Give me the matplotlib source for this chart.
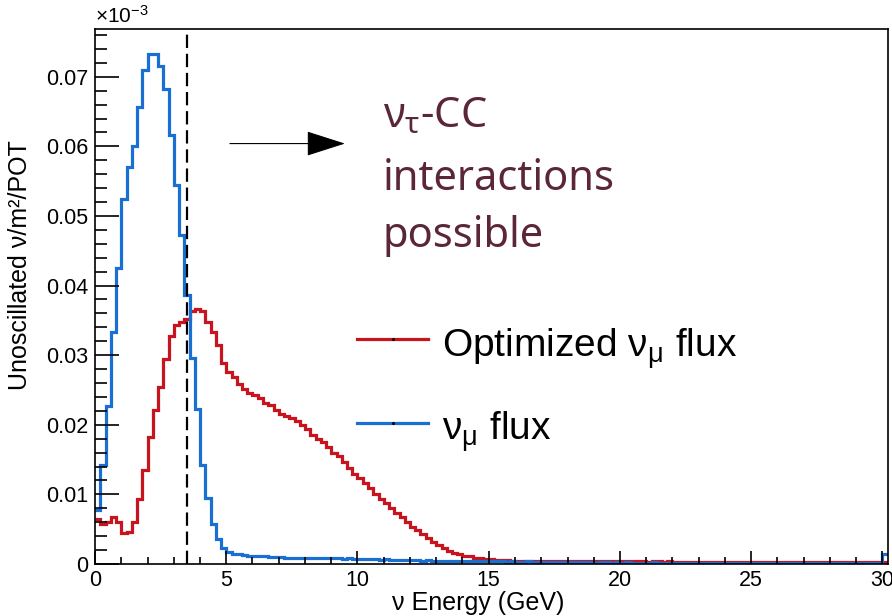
import numpy as np
import matplotlib
matplotlib.use("Agg")
import matplotlib.pyplot as plt
from matplotlib.lines import Line2D
from matplotlib.ticker import MultipleLocator, FixedLocator, FixedFormatter

plt.rcParams['font.family'] = ['Liberation Sans', 'DejaVu Sans']
plt.rcParams['mathtext.default'] = 'regular'

# Energy binning: 0.2 GeV bins from 0 to 30.2 GeV
bin_width = 0.2
n_bins = 151

# nu_mu flux (per m^2 per POT, x1e-3), one value per bin
numu_flux = [
    0.0078, 0.0142, 0.0227, 0.0334, 0.0425, 0.0525, 0.0570, 0.0600, 0.0657, 0.0710,
    0.0732, 0.0732, 0.0716, 0.0683, 0.0617, 0.0545, 0.0472, 0.0387, 0.0296, 0.0222,
    0.0142, 0.0095, 0.0058, 0.0036, 0.0023, 0.0017, 0.0015, 0.0014, 0.0013, 0.0012,
    0.0012, 0.0011, 0.0011, 0.0010, 0.0010, 0.0010, 0.0009, 0.0009, 0.0009, 0.0009,
    0.0009, 0.0008, 0.0008, 0.0008, 0.0008, 0.0008, 0.0008, 0.0007, 0.0008, 0.0007,
    0.0007, 0.0007, 0.0007, 0.0007, 0.0006, 0.0007, 0.0006, 0.0006, 0.0006, 0.0006,
    0.0006, 0.0006, 0.0005, 0.0006, 0.0005, 0.0005, 0.0005, 0.0005, 0.0005, 0.0004,
    0.0005, 0.0004, 0.0004, 0.0004, 0.0004, 0.0004, 0.0004, 0.0004, 0.0003, 0.0004,
    0.0003, 0.0003, 0.0004, 0.0003, 0.0003, 0.0003, 0.0003, 0.0003, 0.0003, 0.0003,
    0.0003, 0.0003, 0.0003, 0.0003, 0.0003, 0.0002, 0.0003, 0.0003, 0.0002, 0.0003,
    0.0002, 0.0003, 0.0002, 0.0002, 0.0002, 0.0002, 0.0003, 0.0002, 0.0002, 0.0002,
    0.0002, 0.0002, 0.0002, 0.0002, 0.0002, 0.0002, 0.0002, 0.0002, 0.0002, 0.0002,
    0.0002, 0.0002, 0.0002, 0.0002, 0.0002, 0.0002, 0.0002, 0.0002, 0.0002, 0.0002,
    0.0002, 0.0002, 0.0002, 0.0002, 0.0002, 0.0002, 0.0002, 0.0002, 0.0002, 0.0002,
    0.0002, 0.0002, 0.0002, 0.0002, 0.0002, 0.0002, 0.0002, 0.0002, 0.0002, 0.0002,
    0.0015,
]

# optimized nu_mu flux
opt_flux = [
    0.0065, 0.0058, 0.0061, 0.0068, 0.0061, 0.0044, 0.0046, 0.0061, 0.0094, 0.0135,
    0.0183, 0.0221, 0.0255, 0.0295, 0.0328, 0.0344, 0.0348, 0.0352, 0.0364, 0.0366,
    0.0363, 0.0347, 0.0333, 0.0314, 0.0289, 0.0276, 0.0269, 0.0259, 0.0252, 0.0246,
    0.0243, 0.0238, 0.0232, 0.0228, 0.0221, 0.0216, 0.0213, 0.0210, 0.0205, 0.0199,
    0.0194, 0.0186, 0.0180, 0.0175, 0.0168, 0.0160, 0.0155, 0.0146, 0.0138, 0.0130,
    0.0123, 0.0117, 0.0109, 0.0101, 0.0094, 0.0087, 0.0080, 0.0073, 0.0068, 0.0060,
    0.0053, 0.0049, 0.0043, 0.0037, 0.0032, 0.0027, 0.0023, 0.0019, 0.0016, 0.0014,
    0.0012, 0.0011, 0.0009, 0.0008, 0.0007, 0.0007, 0.0006, 0.0006, 0.0006, 0.0005,
    0.0005, 0.0005, 0.0005, 0.0005, 0.0005, 0.0004, 0.0005, 0.0004, 0.0004, 0.0004,
    0.0004, 0.0004, 0.0004, 0.0004, 0.0004, 0.0004, 0.0004, 0.0004, 0.0004, 0.0004,
    0.0004, 0.0004, 0.0004, 0.0004, 0.0004, 0.0003, 0.0004, 0.0004, 0.0003, 0.0004,
    0.0003, 0.0003, 0.0003, 0.0003, 0.0003, 0.0003, 0.0003, 0.0003, 0.0003, 0.0003,
    0.0003, 0.0003, 0.0003, 0.0003, 0.0003, 0.0003, 0.0003, 0.0003, 0.0003, 0.0003,
    0.0003, 0.0003, 0.0003, 0.0003, 0.0003, 0.0003, 0.0003, 0.0003, 0.0003, 0.0003,
    0.0003, 0.0003, 0.0003, 0.0003, 0.0003, 0.0003, 0.0003, 0.0003, 0.0003, 0.0003,
    0.0003,
]

tau_threshold = 3.5  # GeV

y_ticks = [0.0, 0.01, 0.02, 0.03, 0.04, 0.05, 0.06, 0.07]
y_tick_labels = ['0', '0.01', '0.02', '0.03', '0.04', '0.05', '0.06', '0.07']
x_ticks = [0, 5, 10, 15, 20, 25, 30]
x_tick_labels = ['0', '5', '10', '15', '20', '25', '30']

RED = '#c8141e'
BLUE = '#1a6fd2'
MAROON = '#5b2638'

W, H = 892, 616
fig = plt.figure(figsize=(W / 100, H / 100), dpi=100)


def fx(px):
    return px / W


def fy(py):
    return 1 - py / H


ax = fig.add_axes([fx(95), fy(564), fx(887.75) - fx(95), fy(29) - fy(564)])

edges = np.arange(n_bins + 1) * bin_width
ax.stairs(opt_flux, edges, color=RED, linewidth=2.3, baseline=None)
ax.stairs(numu_flux, edges, color=BLUE, linewidth=2.3, baseline=None)

ax.axvline(tau_threshold, color='black', linestyle=(0, (6, 2.6)), linewidth=1.6)

ax.set_xlim(0, n_bins * bin_width)
ax.set_ylim(0, 1.05 * max(numu_flux))

ax.xaxis.set_major_locator(FixedLocator(x_ticks))
ax.xaxis.set_major_formatter(FixedFormatter(x_tick_labels))
ax.xaxis.set_minor_locator(MultipleLocator(1))
ax.yaxis.set_major_locator(FixedLocator(y_ticks))
ax.yaxis.set_major_formatter(FixedFormatter(y_tick_labels))
ax.yaxis.set_minor_locator(MultipleLocator(0.002))

ax.tick_params(axis='both', which='both', direction='in', width=1.2,
               labelsize=15.5, top=False, right=False)
ax.tick_params(axis='y', which='major', length=17, pad=5)
ax.tick_params(axis='y', which='minor', length=8.5)
ax.tick_params(axis='x', which='major', length=9.5, pad=4)
ax.tick_params(axis='x', which='minor', length=5)
for s in ax.spines.values():
    s.set_linewidth(1.2)

fig.text(fx(95), fy(23), r'$\times$10$^{-3}$', fontsize=15, ha='left', va='baseline')
fig.text(fx(478), fy(603), 'ν Energy (GeV)', fontsize=18, ha='center', va='center')
fig.text(fx(20), fy(265), 'Unoscillated ν/m²/POT', fontsize=18, rotation=90,
         ha='center', va='center')

# legend entries drawn by hand
for py, col in [(339, RED), (423, BLUE)]:
    fig.add_artist(Line2D([fx(357), fx(428)], [fy(py), fy(py)], color=col, linewidth=2.3))
    fig.add_artist(Line2D([fx(392.5)], [fy(py)], marker='o', markersize=1.2,
                          color='black', linestyle='none'))
fig.text(fx(442), fy(358), r'Optimized $\nu_{\mu}$ flux', fontsize=28, ha='left', va='baseline')
fig.text(fx(442), fy(441), r'$\nu_{\mu}$ flux', fontsize=28, ha='left', va='baseline')

# threshold annotation
ax.annotate('', xy=(9.52, 0.0604), xytext=(5.14, 0.0604),
            arrowprops=dict(arrowstyle='-|>,head_length=2.5,head_width=0.8',
                            mutation_scale=10, color='black', linewidth=0.8,
                            shrinkA=0, shrinkB=0))
for txt, py in [(r'$\nu_{\tau}$-CC', 127), ('interactions', 190), ('possible', 247)]:
    fig.text(fx(383), fy(py), txt, fontsize=30, color=MAROON, family='Noto Sans',
             ha='left', va='baseline')

fig.savefig('out.png', dpi=100)
